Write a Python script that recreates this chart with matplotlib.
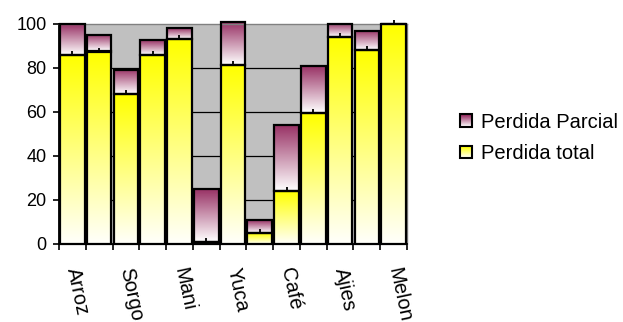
import numpy as np
import matplotlib
matplotlib.use("Agg")
import matplotlib.pyplot as plt
from matplotlib.patches import Rectangle
from matplotlib.legend_handler import HandlerBase
from matplotlib.colors import to_rgb

plt.rcParams['font.family'] = ['Liberation Sans', 'DejaVu Sans']

# Crops (only every other name is printed on the axis)
categories = ['Arroz', '', 'Sorgo', '', 'Mani', '', 'Yuca', '', 'Café', '', 'Ajies', '', 'Melon']
perdida_total = [86, 87.5, 68, 86, 93, 1, 81.5, 5, 24, 59.5, 94, 88, 100]
perdida_parcial = [14, 7.5, 11, 6.5, 5, 24, 19.2, 5.7, 30, 21.2, 6, 9, 0]
y_ticks = [0, 20, 40, 60, 80, 100]

YELLOW_TOP, YELLOW_BOTTOM = '#FFFF00', '#FFFFFA'
MAROON_TOP, MAROON_BOTTOM = '#993366', '#FFFFFF'


def gradient(top, bottom, n=64):
    t = np.linspace(0, 1, n)[:, None]
    a, b = np.array(to_rgb(top)), np.array(to_rgb(bottom))
    col = a[None, :] * (1 - t) + b[None, :] * t
    return col[:, None, :]


def fill_gradient(ax, bars, top, bottom):
    img = gradient(top, bottom)
    for r in bars:
        x, y = r.get_x(), r.get_y()
        w, h = r.get_width(), r.get_height()
        if h <= 0:
            continue
        im = ax.imshow(img, extent=[x, x + w, y, y + h], origin='upper',
                       aspect='auto', zorder=2, interpolation='bilinear')
        im.set_clip_path(r)
        r.set_facecolor('none')
        r.set_zorder(3)


class GradientSquare(HandlerBase):
    def __init__(self, top, bottom):
        super().__init__()
        self.top, self.bottom = top, bottom

    def create_artists(self, legend, orig_handle, xdescent, ydescent,
                       width, height, fontsize, trans):
        n = 12
        a, b = np.array(to_rgb(self.top)), np.array(to_rgb(self.bottom))
        arts = []
        for i in range(n):
            t = i / (n - 1)
            c = a * (1 - t) + b * t
            y0 = -ydescent + height * (1 - (i + 1) / n)
            arts.append(Rectangle((-xdescent, y0), width, height / n,
                                  facecolor=c, edgecolor='none', transform=trans))
        arts.append(Rectangle((-xdescent, -ydescent), width, height,
                              facecolor='none', edgecolor='black', lw=1.5,
                              transform=trans))
        return arts


fig = plt.figure(figsize=(6.23, 3.22), dpi=100)
ax = fig.add_axes([59 / 623, 78 / 322, 348 / 623, 220 / 322])
ax.set_facecolor('#C0C0C0')

x = np.arange(len(categories))
total = np.array(perdida_total)
parcial = np.array(perdida_parcial)

for yv in y_ticks[1:-1]:
    ax.axhline(yv, color='black', lw=0.9, zorder=1)

bw = 0.92
bars_total = ax.bar(x, total, width=bw, edgecolor='black', linewidth=1.6,
                    clip_on=False)
bars_parcial = ax.bar(x, parcial, bottom=total, width=bw, edgecolor='black',
                      linewidth=1.6, clip_on=False)
fill_gradient(ax, bars_total, YELLOW_TOP, YELLOW_BOTTOM)
fill_gradient(ax, bars_parcial, MAROON_TOP, MAROON_BOTTOM)

# small upward marks on top of each yellow segment
ax.errorbar(x, total, yerr=[np.zeros_like(total), np.full_like(total, 1.8)],
            fmt='none', ecolor='black', elinewidth=1.3, capsize=0, zorder=4,
            clip_on=False)

ax.set_xlim(-0.5, len(categories) - 0.5)
ax.set_ylim(0, 100)
ax.set_yticks(y_ticks)
ax.tick_params(axis='y', direction='out', length=4, width=1.2, pad=5,
               labelsize=13, color='black')

ax.set_xticks(x)
ax.set_xticklabels(categories, rotation=-78, ha='left', va='center',
                   rotation_mode='anchor', fontsize=14.5)
ax.tick_params(axis='x', which='major', length=0, pad=17)
ax.set_xticks(np.arange(-0.5, len(categories)), minor=True)
ax.tick_params(axis='x', which='minor', direction='out', length=4, width=1.2)

for s in ('left', 'bottom'):
    ax.spines[s].set_color('black')
    ax.spines[s].set_linewidth(1.3)
for s in ('top', 'right'):
    ax.spines[s].set_color('#808080')
    ax.spines[s].set_linewidth(1.0)
ax.spines['bottom'].set_zorder(5)

h1 = Rectangle((0, 0), 1, 1)
h2 = Rectangle((0, 0), 1, 1)
fig.legend([h1, h2], ['Perdida Parcial', 'Perdida total'],
           handler_map={h1: GradientSquare(MAROON_TOP, MAROON_BOTTOM),
                        h2: GradientSquare(YELLOW_TOP, YELLOW_BOTTOM)},
           loc='center left', bbox_to_anchor=(460 / 623, 184 / 322),
           borderaxespad=0, borderpad=0, frameon=False, fontsize=14.5,
           handlelength=0.6, handleheight=0.6, handletextpad=0.45,
           labelspacing=0.6)

fig.savefig('out.png', dpi=100)
